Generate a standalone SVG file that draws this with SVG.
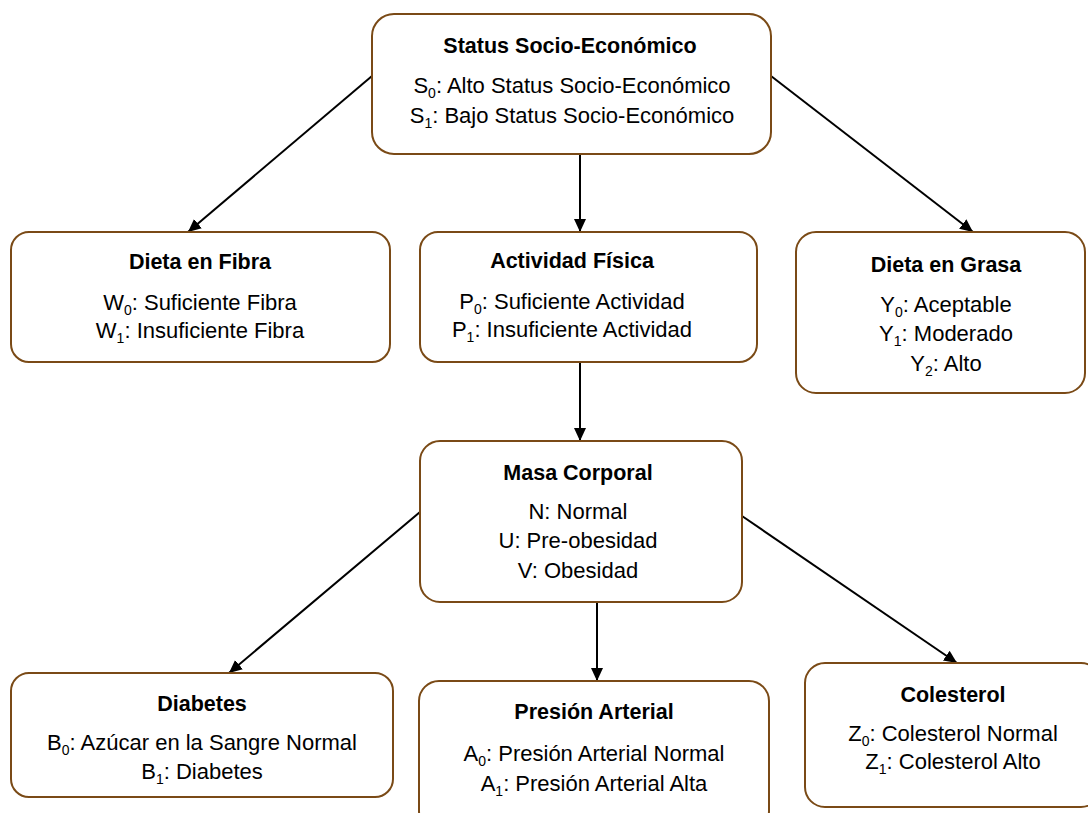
<svg xmlns="http://www.w3.org/2000/svg" width="1088" height="813" viewBox="0 0 1088 813">
  <style>
    .box { fill: #ffffff; stroke: #7a4a16; stroke-width: 2; }
    .edge { stroke: #000000; stroke-width: 2; fill: none; marker-end: url(#arrow); }
    text { font-family: "Liberation Sans", Arial, sans-serif; font-size: 22px; fill: #000000; text-anchor: middle; }
    .title { font-weight: bold; font-size: 21.5px; }
    .sub { font-size: 14px; }
  </style>
  <defs>
    <marker id="arrow" markerUnits="userSpaceOnUse" markerWidth="14" markerHeight="14" refX="13" refY="7" orient="auto">
      <path d="M0,1 L13,7 L0,13 z" fill="#000000"/>
    </marker>
  </defs>

  <rect width="1088" height="813" fill="#ffffff"/>

  <!-- connectors -->
  <g id="connectors">
    <line class="edge" x1="372" y1="76" x2="188" y2="232"/>
    <line class="edge" x1="580" y1="154" x2="580" y2="232"/>
    <line class="edge" x1="771" y1="76" x2="973" y2="232"/>
    <line class="edge" x1="580" y1="362" x2="580" y2="441"/>
    <line class="edge" x1="420" y1="512" x2="229" y2="673"/>
    <line class="edge" x1="597" y1="602" x2="597" y2="681"/>
    <line class="edge" x1="742" y1="516" x2="957" y2="663"/>
  </g>

  <!-- Status Socio-Económico -->
  <g id="node-status">
    <rect class="box" x="372" y="14" width="399" height="140" rx="22"/>
    <text class="title" x="570" y="53">Status Socio-Económico</text>
    <text x="572" y="93">S<tspan class="sub" dy="5">0</tspan><tspan dy="-5">: Alto Status Socio-Económico</tspan></text>
    <text x="572" y="123">S<tspan class="sub" dy="5">1</tspan><tspan dy="-5">: Bajo Status Socio-Económico</tspan></text>
  </g>

  <!-- Dieta en Fibra -->
  <g id="node-fibra">
    <rect class="box" x="11" y="232" width="379" height="130" rx="18"/>
    <text class="title" x="200" y="269">Dieta en Fibra</text>
    <text x="200" y="310">W<tspan class="sub" dy="5">0</tspan><tspan dy="-5">: Suficiente Fibra</tspan></text>
    <text x="200" y="338">W<tspan class="sub" dy="5">1</tspan><tspan dy="-5">: Insuficiente Fibra</tspan></text>
  </g>

  <!-- Actividad Física -->
  <g id="node-actividad">
    <rect class="box" x="420" y="232" width="337" height="130" rx="18"/>
    <text class="title" x="572" y="268">Actividad Física</text>
    <text x="572" y="309">P<tspan class="sub" dy="5">0</tspan><tspan dy="-5">: Suficiente Actividad</tspan></text>
    <text x="572" y="337">P<tspan class="sub" dy="5">1</tspan><tspan dy="-5">: Insuficiente Actividad</tspan></text>
  </g>

  <!-- Dieta en Grasa -->
  <g id="node-grasa">
    <rect class="box" x="796" y="232" width="289" height="161" rx="20"/>
    <text class="title" x="946" y="272">Dieta en Grasa</text>
    <text x="946" y="312">Y<tspan class="sub" dy="5">0</tspan><tspan dy="-5">: Aceptable</tspan></text>
    <text x="946" y="341">Y<tspan class="sub" dy="5">1</tspan><tspan dy="-5">: Moderado</tspan></text>
    <text x="946" y="371">Y<tspan class="sub" dy="5">2</tspan><tspan dy="-5">: Alto</tspan></text>
  </g>

  <!-- Masa Corporal -->
  <g id="node-masa">
    <rect class="box" x="420" y="441" width="322" height="161" rx="20"/>
    <text class="title" x="578" y="480">Masa Corporal</text>
    <text x="578" y="519">N: Normal</text>
    <text x="578" y="548">U: Pre-obesidad</text>
    <text x="578" y="578">V: Obesidad</text>
  </g>

  <!-- Diabetes -->
  <g id="node-diabetes">
    <rect class="box" x="11" y="673" width="382" height="124" rx="18"/>
    <text class="title" x="202" y="711">Diabetes</text>
    <text x="202" y="750">B<tspan class="sub" dy="5">0</tspan><tspan dy="-5">: Azúcar en la Sangre Normal</tspan></text>
    <text x="202" y="779">B<tspan class="sub" dy="5">1</tspan><tspan dy="-5">: Diabetes</tspan></text>
  </g>

  <!-- Presión Arterial -->
  <g id="node-presion">
    <rect class="box" x="419" y="681" width="350" height="150" rx="20"/>
    <text class="title" x="594" y="719">Presión Arterial</text>
    <text x="594" y="761">A<tspan class="sub" dy="5">0</tspan><tspan dy="-5">: Presión Arterial Normal</tspan></text>
    <text x="594" y="791">A<tspan class="sub" dy="5">1</tspan><tspan dy="-5">: Presión Arterial Alta</tspan></text>
  </g>

  <!-- Colesterol -->
  <g id="node-colesterol">
    <rect class="box" x="805" y="663" width="296" height="144" rx="20"/>
    <text class="title" x="953" y="702">Colesterol</text>
    <text x="953" y="741">Z<tspan class="sub" dy="5">0</tspan><tspan dy="-5">: Colesterol Normal</tspan></text>
    <text x="953" y="769">Z<tspan class="sub" dy="5">1</tspan><tspan dy="-5">: Colesterol Alto</tspan></text>
  </g>
</svg>
